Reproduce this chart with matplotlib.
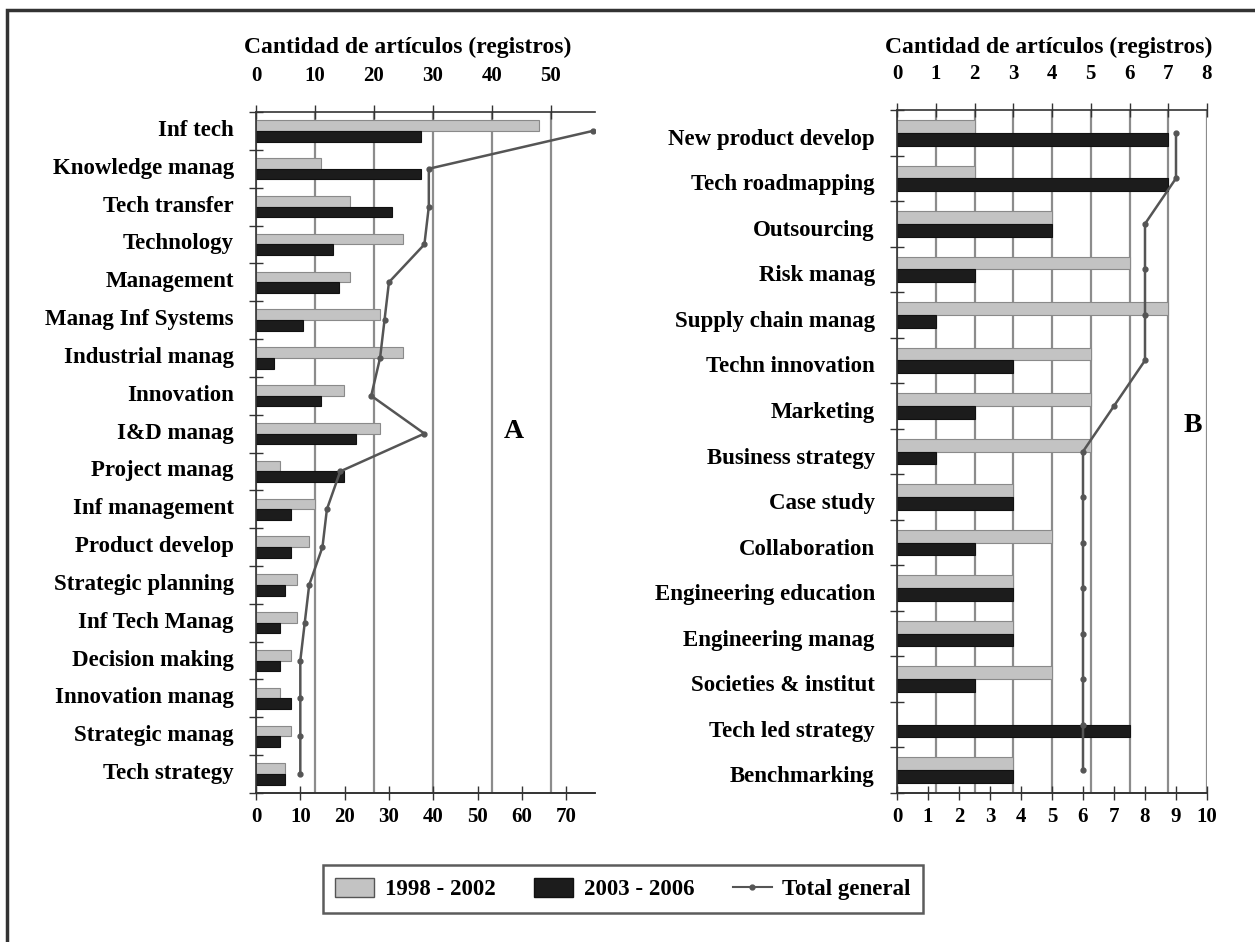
import matplotlib
matplotlib.use("Agg")
import matplotlib.pyplot as plt
import matplotlib.ticker as ticker
import matplotlib.transforms as mtransforms
from matplotlib.patches import Rectangle
from matplotlib.lines import Line2D
from matplotlib.patches import Patch
import numpy as np

plt.rcParams["font.family"] = ["Liberation Serif", "DejaVu Serif"]
plt.rcParams["font.weight"] = "bold"

# Panel A data
cats_a = [
    "Inf tech", "Knowledge manag", "Tech transfer", "Technology", "Management",
    "Manag Inf Systems", "Industrial manag", "Innovation", "I&D manag",
    "Project manag", "Inf management", "Product develop", "Strategic planning",
    "Inf Tech Manag", "Decision making", "Innovation manag", "Strategic manag",
    "Tech strategy",
]
p1_a = [48, 11, 16, 25, 16, 21, 25, 15, 21, 4, 10, 9, 7, 7, 6, 4, 6, 5]
p2_a = [28, 28, 23, 13, 14, 8, 3, 11, 17, 15, 6, 6, 5, 4, 4, 6, 4, 5]
total_a = [76, 39, 39, 38, 30, 29, 28, 26, 38, 19, 16, 15, 12, 11, 10, 10, 10, 10]

# Panel B data
cats_b = [
    "New product develop", "Tech roadmapping", "Outsourcing", "Risk manag",
    "Supply chain manag", "Techn innovation", "Marketing", "Business strategy",
    "Case study", "Collaboration", "Engineering education", "Engineering manag",
    "Societies & institut", "Tech led strategy", "Benchmarking",
]
p1_b = [2, 2, 4, 6, 7, 5, 5, 5, 3, 4, 3, 3, 4, 0, 3]
p2_b = [7, 7, 4, 2, 1, 3, 2, 1, 3, 2, 3, 3, 2, 6, 3]
total_b = [9, 9, 8, 8, 8, 8, 7, 6, 6, 6, 6, 6, 6, 6, 6]

GREY = "#c3c3c3"
BLACK = "#1c1c1c"
LINE = "#555555"
AXC = "#333333"

fig = plt.figure(figsize=(12.55, 9.42), dpi=100)


def draw_panel(rect, cats, p1, p2, total, bar_lim, bar_ticks, tot_lim, tot_ticks,
               letter, letter_xy, title_x, label_dy):
    ax = fig.add_axes(rect)
    n = len(cats)
    y = np.arange(n)
    h = 0.28
    ax.barh(y - h / 2, p1, height=h, color=GREY, edgecolor="#8a8a8a",
            linewidth=0.8, zorder=2)
    ax.barh(y + h / 2, p2, height=h, color=BLACK, edgecolor="#111111",
            linewidth=0.8, zorder=2)
    ax.set_xlim(*bar_lim)
    ax.set_ylim(n - 0.5, -0.5)
    ax.set_axisbelow(True)
    ax.xaxis.grid(True, color="#8c8c8c", linewidth=1.6)

    ax.set_yticks(y)
    ax.set_yticklabels(cats, fontsize=16.5, fontweight="bold")
    ax.tick_params(axis="y", which="major", length=0, pad=16)
    shift = mtransforms.ScaledTranslation(0, label_dy / 100, fig.dpi_scale_trans)
    for lab in ax.get_yticklabels():
        lab.set_transform(lab.get_transform() + shift)
    ax.yaxis.set_minor_locator(ticker.FixedLocator(np.arange(n + 1) - 0.5))
    ax.tick_params(axis="y", which="minor", direction="inout", length=10,
                   width=1, color=AXC)

    for s in ["top", "left", "bottom"]:
        ax.spines[s].set_color(AXC)
        ax.spines[s].set_linewidth(1.2)
    ax.spines["right"].set_visible(False)

    # total line on a second x axis, shown at the bottom
    ax2 = ax.twiny()
    ax2.plot(total, y, color=LINE, linewidth=1.8, marker="o", markersize=3.5,
             zorder=5)
    ax2.set_xlim(*tot_lim)
    ax2.set_ylim(n - 0.5, -0.5)
    ax2.xaxis.set_ticks_position("bottom")
    ax2.set_xticks(tot_ticks)
    ax2.set_xticklabels([str(t) for t in tot_ticks], fontsize=15,
                        fontweight="bold")
    ax2.tick_params(axis="x", direction="inout", length=10, width=1, color=AXC,
                    pad=5)
    for s in ["top", "right", "left"]:
        ax2.spines[s].set_visible(False)
    ax2.spines["bottom"].set_color(AXC)
    ax2.spines["bottom"].set_linewidth(1.2)

    # bar axis ticks on top (after twiny, which resets them)
    ax.xaxis.set_ticks_position("top")
    ax.set_xticks(bar_ticks)
    ax.set_xticklabels([str(t) for t in bar_ticks], fontsize=15, fontweight="bold")
    ax.tick_params(axis="x", which="both", bottom=False, labelbottom=False,
                   top=True, labeltop=True, direction="inout", length=10,
                   width=1, color=AXC, pad=14)

    fig.text(letter_xy[0], letter_xy[1], letter, fontsize=20, fontweight="bold",
             ha="center", va="center")
    fig.text(title_x, 1 - 47 / 942, "Cantidad de artículos (registros)",
             fontsize=17, fontweight="bold", ha="center", va="center")
    return ax


draw_panel([256 / 1255, 1 - 793 / 942, 339 / 1255, 681 / 942],
           cats_a, p1_a, p2_a, total_a,
           (0, 57.5), list(range(0, 51, 10)),
           (0, 76.5), list(range(0, 71, 10)),
           "A", (514 / 1255, 1 - 432 / 942), 408 / 1255, 3)

draw_panel([897 / 1255, 1 - 793 / 942, 310 / 1255, 683 / 942],
           cats_b, p1_b, p2_b, total_b,
           (0, 8), list(range(0, 9)),
           (0, 10), list(range(0, 11)),
           "B", (1193 / 1255, 1 - 425 / 942), 1049 / 1255, -4)

handles = [
    Patch(facecolor=GREY, edgecolor="#555555", label="1998 - 2002"),
    Patch(facecolor=BLACK, edgecolor="#111111", label="2003 - 2006"),
    Line2D([0], [0], color=LINE, marker="o", markersize=3.5, linewidth=1.5,
           label="Total general"),
]
leg = fig.legend(handles=handles, loc="center", ncol=3,
                 bbox_to_anchor=(623 / 1255, 1 - 889 / 942),
                 fontsize=16.5, frameon=True, fancybox=False, edgecolor="#333333",
                 handlelength=1.7, handleheight=0.9, handletextpad=0.45,
                 columnspacing=1.7, borderpad=0.55)
leg.get_frame().set_linewidth(1.8)

fig.patches.append(Rectangle((7 / 1255, -0.2), 1.5, 1 - 9.5 / 942 + 0.2,
                             transform=fig.transFigure, fill=False,
                             edgecolor="#333333", linewidth=2.5))

fig.savefig("out.png", dpi=100)
